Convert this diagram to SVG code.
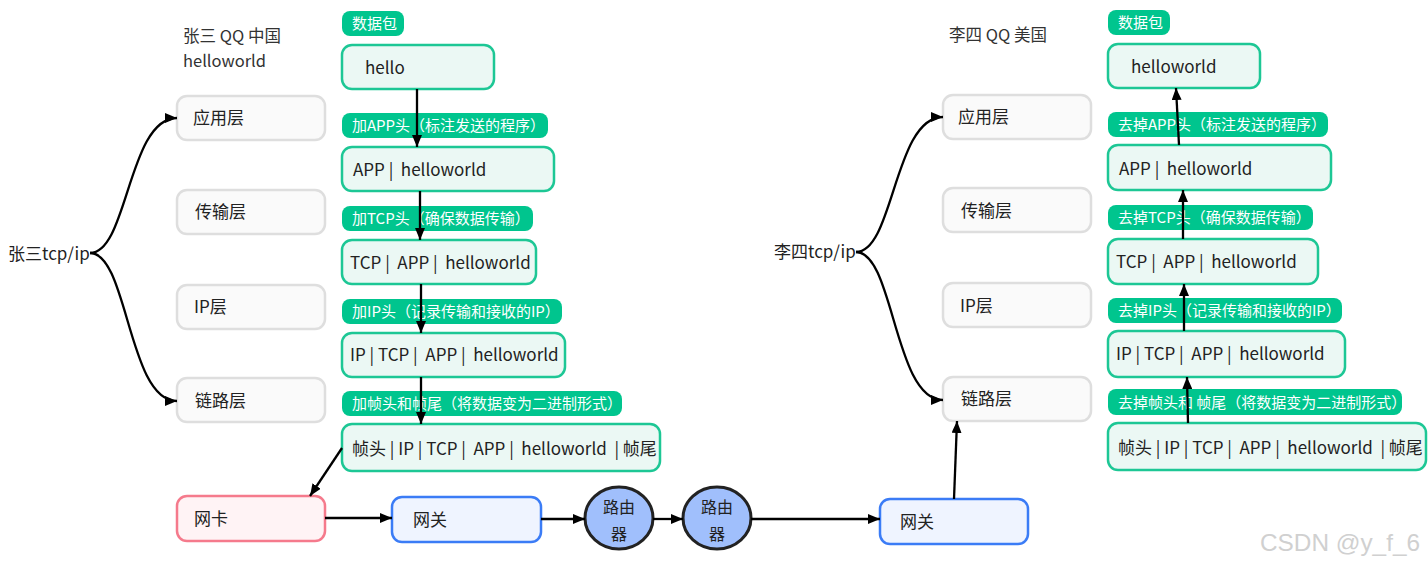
<svg xmlns="http://www.w3.org/2000/svg" width="1428" height="567" viewBox="0 0 1428 567">
<defs>
<marker id="ah" viewBox="0 0 12 10" refX="12" refY="5" markerWidth="12" markerHeight="10" markerUnits="userSpaceOnUse" orient="auto"><path d="M0,0 L12,5 L0,10 Z" fill="#000"/></marker>
<style>
text{font-family:"Noto Sans CJK SC","Noto Sans",sans-serif;white-space:pre}
.t{font-size:17px;fill:#222}
.h{font-size:16.5px;fill:#333}
.lay{fill:#fafafa;stroke:#dedede;stroke-width:2.5}
.pkt{fill:#ebf8f4;stroke:#1dc795;stroke-width:2.5}
.pill{fill:#00c58e}
.pt{font-size:15px;fill:#fff}
.nic{fill:#fff3f5;stroke:#f57a8c;stroke-width:2.5}
.gw{fill:#eff4ff;stroke:#3b7cf6;stroke-width:2.5}
.rt{fill:#a0bffc;stroke:#222;stroke-width:3}
.c{fill:none;stroke:#000;stroke-width:2.3;marker-end:url(#ah)}
</style>
</defs>
<rect width="1428" height="567" fill="#fff"/>

<text class="h" x="183" y="42">张三 QQ 中国</text>
<text class="h" x="183" y="67">helloworld</text>
<text class="h" x="949" y="41">李四 QQ 美国</text>
<text class="t" x="8" y="260">张三tcp/ip</text>
<text class="t" x="774" y="258">李四tcp/ip</text>

<g id="l-app"><rect class="lay" x="177" y="96" width="148" height="44" rx="10"/><text class="t" x="193" y="124">应用层</text></g>
<g id="l-tcp"><rect class="lay" x="177" y="190" width="148" height="44" rx="10"/><text class="t" x="195" y="218">传输层</text></g>
<g id="l-ip"><rect class="lay" x="177" y="285" width="148" height="44" rx="10"/><text class="t" x="194" y="313">IP层</text></g>
<g id="l-link"><rect class="lay" x="177" y="378" width="148" height="44" rx="10"/><text class="t" x="195" y="407">链路层</text></g>

<g id="r-app"><rect class="lay" x="943" y="95" width="148" height="44" rx="10"/><text class="t" x="958" y="123">应用层</text></g>
<g id="r-tcp"><rect class="lay" x="943" y="188" width="148" height="44" rx="10"/><text class="t" x="961" y="217">传输层</text></g>
<g id="r-ip"><rect class="lay" x="943" y="283" width="148" height="44" rx="10"/><text class="t" x="960" y="312">IP层</text></g>
<g id="r-link"><rect class="lay" x="943" y="377" width="148" height="44" rx="10"/><text class="t" x="961" y="405">链路层</text></g>

<g id="s-lbl0"><rect class="pill" x="342" y="11" width="62" height="25" rx="8"/><text class="pt" x="352" y="29">数据包</text></g>
<g id="s-hello"><rect class="pkt" x="342" y="45" width="152" height="44" rx="10"/><text class="t" x="365" y="74">hello</text></g>
<g id="s-lbl1"><rect class="pill" x="342" y="113" width="206" height="25" rx="8"/><text class="pt" x="352" y="131">加APP头（标注发送的程序）</text></g>
<g id="s-app"><rect class="pkt" x="342" y="147" width="212" height="44" rx="10"/><text class="t" x="353" y="176">APP |  helloworld</text></g>
<g id="s-lbl2"><rect class="pill" x="342" y="206" width="191" height="25" rx="8"/><text class="pt" x="352" y="224">加TCP头（确保数据传输）</text></g>
<g id="s-tcp"><rect class="pkt" x="342" y="240" width="194" height="44" rx="10"/><text class="t" x="350" y="269">TCP |  APP |  helloworld</text></g>
<g id="s-lbl3"><rect class="pill" x="342" y="299" width="220" height="25" rx="8"/><text class="pt" x="352" y="317">加IP头（记录传输和接收的IP）</text></g>
<g id="s-ip"><rect class="pkt" x="342" y="333" width="223" height="44" rx="10"/><text class="t" x="350" y="361">IP | TCP |  APP |  helloworld</text></g>
<g id="s-lbl4"><rect class="pill" x="342" y="391" width="280" height="25" rx="8"/><text class="pt" x="352" y="409">加帧头和帧尾（将数据变为二进制形式）</text></g>
<g id="s-frame"><rect class="pkt" x="342" y="424" width="318" height="47" rx="10"/><text class="t" x="352" y="455">帧头 | IP | TCP |  APP |  helloworld  | 帧尾</text></g>

<g id="d-lbl0"><rect class="pill" x="1108" y="10" width="62" height="25" rx="8"/><text class="pt" x="1118" y="28">数据包</text></g>
<g id="d-hello"><rect class="pkt" x="1108" y="44" width="152" height="44" rx="10"/><text class="t" x="1131" y="73">helloworld</text></g>
<g id="d-lbl1"><rect class="pill" x="1108" y="112" width="220" height="25" rx="8"/><text class="pt" x="1118" y="130">去掉APP头（标注发送的程序）</text></g>
<g id="d-app"><rect class="pkt" x="1108" y="145" width="223" height="45" rx="10"/><text class="t" x="1119" y="175">APP |  helloworld</text></g>
<g id="d-lbl2"><rect class="pill" x="1108" y="205" width="205" height="25" rx="8"/><text class="pt" x="1118" y="223">去掉TCP头（确保数据传输）</text></g>
<g id="d-tcp"><rect class="pkt" x="1108" y="239" width="210" height="45" rx="10"/><text class="t" x="1116" y="268">TCP |  APP |  helloworld</text></g>
<g id="d-lbl3"><rect class="pill" x="1108" y="298" width="234" height="25" rx="8"/><text class="pt" x="1118" y="316">去掉IP头（记录传输和接收的IP）</text></g>
<g id="d-ip"><rect class="pkt" x="1108" y="331" width="237" height="46" rx="10"/><text class="t" x="1116" y="360">IP | TCP |  APP |  helloworld</text></g>
<g id="d-lbl4"><rect class="pill" x="1108" y="389" width="294" height="26" rx="8"/><text class="pt" x="1118" y="408">去掉帧头和 帧尾（将数据变为二进制形式）</text></g>
<g id="d-frame"><rect class="pkt" x="1108" y="423" width="318" height="47" rx="10"/><text class="t" x="1118" y="454">帧头 | IP | TCP |  APP |  helloworld  | 帧尾</text></g>

<g id="nic"><rect class="nic" x="177" y="496" width="148" height="45" rx="10"/><text class="t" x="194" y="525">网卡</text></g>
<g id="gw1"><rect class="gw" x="392" y="497" width="149" height="45" rx="10"/><text class="t" x="413" y="526">网关</text></g>
<g id="rt1"><ellipse class="rt" cx="619" cy="518" rx="34" ry="31"/><text class="t" x="619" y="513" text-anchor="middle" style="font-size:16px">路由</text><text class="t" x="619" y="540" text-anchor="middle" style="font-size:16px">器</text></g>
<g id="rt2"><ellipse class="rt" cx="717" cy="518" rx="34" ry="31"/><text class="t" x="717" y="513" text-anchor="middle" style="font-size:16px">路由</text><text class="t" x="717" y="540" text-anchor="middle" style="font-size:16px">器</text></g>
<g id="gw2"><rect class="gw" x="880" y="499" width="148" height="45" rx="10"/><text class="t" x="900" y="528">网关</text></g>

<g id="connectors">
<path class="c" d="M90,253 C128,253 128,118 177,118"/>
<path class="c" d="M90,253 C128,253 128,401 177,401"/>
<path class="c" d="M856,252 C894,252 894,117 943,117"/>
<path class="c" d="M856,252 C894,252 894,400 943,400"/>
<path class="c" d="M417,89 L417,147"/>
<path class="c" d="M420,191 L420,240"/>
<path class="c" d="M421,284 L421,333"/>
<path class="c" d="M421,377 L421,424"/>
<path class="c" d="M342,448 L310,496"/>
<path class="c" d="M325,518 L392,518"/>
<path class="c" d="M541,519 L585,519"/>
<path class="c" d="M653,519 L683,519"/>
<path class="c" d="M751,519 L880,519"/>
<path class="c" d="M954,499 L957,421"/>
<path class="c" d="M1188,423 L1187,377"/>
<path class="c" d="M1184,331 L1184,284"/>
<path class="c" d="M1183,239 L1183,190"/>
<path class="c" d="M1179,145 L1176,88"/>
</g>

<text x="1260" y="551" textLength="160" lengthAdjust="spacingAndGlyphs" style="font-family:'Liberation Sans',sans-serif;font-size:24px;fill:#d0d0d0">CSDN @y_f_6</text>
</svg>
